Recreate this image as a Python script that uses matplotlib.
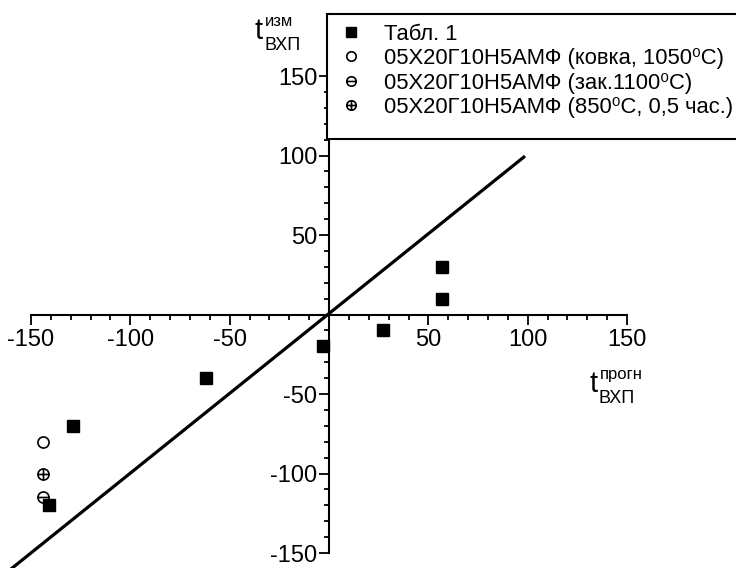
import matplotlib
matplotlib.use("Agg")
import matplotlib.pyplot as plt
from matplotlib.path import Path
from matplotlib.patches import Rectangle
from matplotlib.ticker import FixedLocator

plt.rcParams['font.family'] = ['Liberation Sans', 'DejaVu Sans']
plt.rcParams['axes.unicode_minus'] = False

# Measured vs predicted temperatures
tab1_x = [57, 57, 27, -3, -62, -129, -141]
tab1_y = [30, 10, -10, -20, -40, -70, -120]
forged_x = [-144]
forged_y = [-80]
quenched_x = [-144]
quenched_y = [-115]
annealed_x = [-144]
annealed_y = [-100]
diag_x = [-170, 98]
diag_y = [-170, 99]

major_ticks = [-150, -100, -50, 50, 100, 150]
minor_ticks = [v for v in range(-150, 151, 10) if v % 50]
labels = [
    'Табл. 1',
    '05Х20Г10Н5АМФ (ковка, 1050⁰С)',
    '05Х20Г10Н5АМФ (зак.1100⁰С)',
    '05Х20Г10Н5АМФ (850⁰С, 0,5 час.)',
]

# open-circle markers with a horizontal bar / a cross inside
circ = Path.unit_circle()
theta_marker = Path.make_compound_path(circ, Path([[-1, 0], [1, 0]], [Path.MOVETO, Path.LINETO]))
oplus_marker = Path.make_compound_path(
    circ,
    Path([[-1, 0], [1, 0]], [Path.MOVETO, Path.LINETO]),
    Path([[0, -1], [0, 1]], [Path.MOVETO, Path.LINETO]),
)

W, H = 736, 568
fig = plt.figure(figsize=(W / 100, H / 100), dpi=100)
ax = fig.add_axes([0, 0, 1, 1])
ax.set_xlim(-165.6, 204.8)
ax.set_ylim(-159.4, 197.8)
ax.patch.set_visible(False)

for s in ['top', 'right']:
    ax.spines[s].set_visible(False)
ax.spines['left'].set_position(('data', 0))
ax.spines['bottom'].set_position(('data', 0))
ax.spines['left'].set_bounds(-150, 189)
ax.spines['bottom'].set_bounds(-150, 150)
for s in ['left', 'bottom']:
    ax.spines[s].set_linewidth(1.5)

ax.xaxis.set_major_locator(FixedLocator(major_ticks))
ax.yaxis.set_major_locator(FixedLocator(major_ticks))
ax.xaxis.set_minor_locator(FixedLocator(minor_ticks))
ax.yaxis.set_minor_locator(FixedLocator(minor_ticks))
ax.tick_params(which='major', direction='out', length=7.5, width=1.3, labelsize=17)
ax.tick_params(which='minor', direction='out', length=3.8, width=1.3)
ax.tick_params(axis='x', pad=3)
ax.tick_params(axis='y', pad=1)

ax.plot(diag_x, diag_y, color='black', lw=2.3, clip_on=False, zorder=2)

h1, = ax.plot(tab1_x, tab1_y, 's', color='black', ms=8.5, ls='none', zorder=3)
h2, = ax.plot(forged_x, forged_y, 'o', mfc='none', mec='black', mew=1.2, ms=8, ls='none', zorder=3)
h3, = ax.plot(quenched_x, quenched_y, marker=theta_marker, mfc='none', mec='black', mew=1.2,
              ms=8, ls='none', zorder=3)
h4, = ax.plot(annealed_x, annealed_y, marker=oplus_marker, mfc='none', mec='black', mew=1.2,
              ms=8, ls='none', zorder=3)

# legend panel: white box with black border, legend entries inside
panel = Rectangle((327 / W, 1 - 139 / H), (W + 10 - 327) / W, 125 / H,
                  transform=fig.transFigure, facecolor='white', edgecolor='black',
                  linewidth=1.5, zorder=4, clip_on=False)
ax.add_artist(panel)
leg = ax.legend([h1, h2, h3, h4], labels, loc='upper left',
                bbox_to_anchor=(327 / W, 1 - 17 / H), bbox_transform=fig.transFigure,
                borderaxespad=0, frameon=False,
                fontsize=15.8, handlelength=1.6, handletextpad=0.7, labelspacing=0.16,
                borderpad=0.3, markerscale=0.85)
leg.set_zorder(6)

# axis captions: t with superscript / subscript
fig.text(263 / W, 1 - 39 / H, 't', fontsize=21, ha='right', va='baseline')
fig.text(265 / W, 1 - 26 / H, 'изм', fontsize=12, ha='left', va='baseline')
fig.text(264 / W, 1 - 50 / H, 'ВХП', fontsize=13, ha='left', va='baseline')

fig.text(598 / W, 1 - 392 / H, 't', fontsize=21, ha='right', va='baseline')
fig.text(600 / W, 1 - 379 / H, 'прогн', fontsize=12, ha='left', va='baseline')
fig.text(599 / W, 1 - 403 / H, 'ВХП', fontsize=13, ha='left', va='baseline')

fig.savefig('out.png', dpi=100)
